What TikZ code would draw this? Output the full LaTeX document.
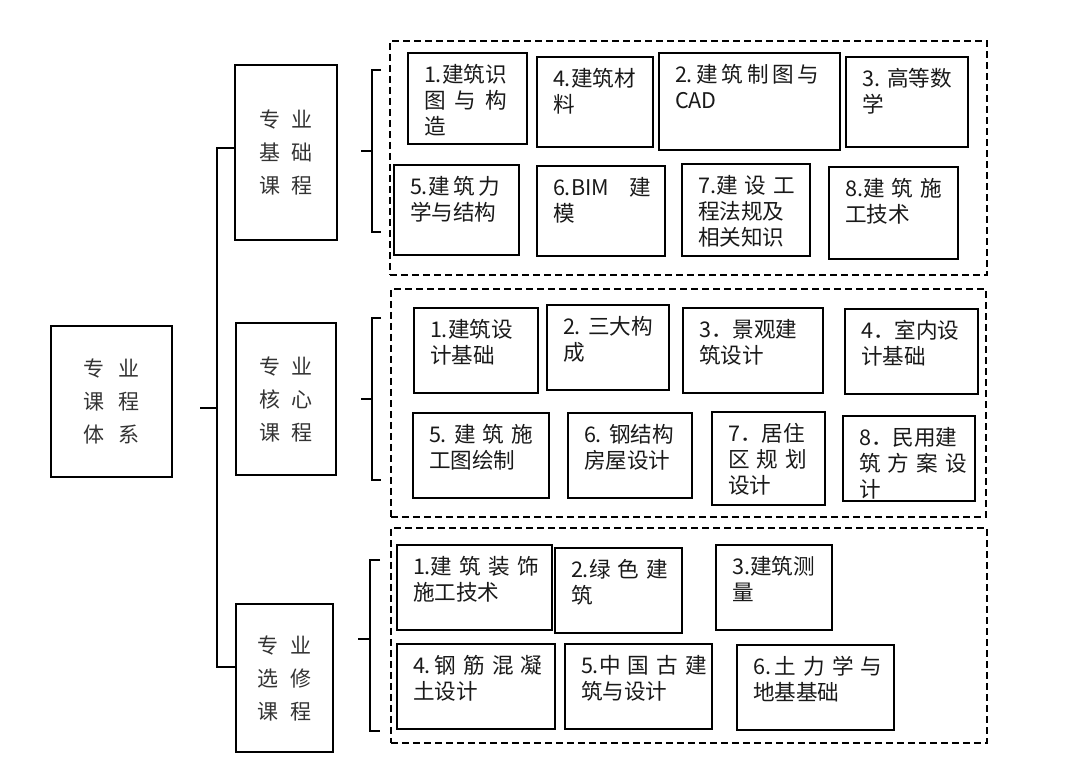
\documentclass[tikz,border=0pt]{standalone}
\usepackage{fontspec}
\setmainfont{Noto Sans CJK SC}
\usepackage{tikz}

\tikzset{
  link/.style={line width=1.25pt},
  catbox/.style 2 args={draw, line width=1.4pt, minimum width=#1, minimum height=#2, inner sep=0pt, align=center, text=black!80, font=\fontsize{10.5}{16.5}\selectfont},
  frame/.style 2 args={draw, dash pattern=on 3.5pt off 2pt, line width=0.8pt, anchor=north west, minimum width=#1, minimum height=#2, inner sep=0pt},
  cbox/.code 2 args={\pgfmathsetmacro\cboxw{#1/2-16}\pgfmathsetmacro\cboxd{#2/2-18.7}%
    \tikzset{draw, line width=1pt, anchor=north west, inner xsep=8pt, inner ysep=4pt, align=left, text=black!90,
      text width/.expanded=\cboxw pt, text height=10.7pt, text depth/.expanded=\cboxd pt, font=\fontsize{10.8}{13}\selectfont}},
}

\begin{document}
\begin{tikzpicture}[x=0.5pt,y=-0.5pt]
		\useasboundingbox (0,0) rectangle (1080,762);
		% main boxes
		\node[catbox={60.5pt}{75.5pt}] (root) at (111.5,401.5) {专\hspace{7pt}业\\课\hspace{7pt}程\\体\hspace{7pt}系};
		\node[catbox={51pt}{87.5pt}] (jichu) at (286,152.5) {专\hspace{6pt}业\\基\hspace{6pt}础\\课\hspace{6pt}程};
		\node[catbox={50pt}{76pt}] (hexin) at (286,399) {专\hspace{6pt}业\\核\hspace{6pt}心\\课\hspace{6pt}程};
		\node[catbox={48.5pt}{74pt}] (xuanxiu) at (284.5,678) {专\hspace{6pt}业\\选\hspace{6pt}修\\课\hspace{6pt}程};
		%
		\coordinate (trunk) at (217,408);
		\coordinate (rootend) at ([xshift=13.5pt,yshift=-3.25pt]root.east);
		\draw[link] (rootend) -- (trunk);
		\draw[link] ([yshift=2.25pt]jichu.west) -| (trunk) |- ([yshift=5.5pt]xuanxiu.west);
		% brackets
		\coordinate (b1) at (361,151);
		\coordinate (b2) at (361,399);
		\coordinate (b3) at (358,639);
		\draw[link] (b1) -- ++(11,0);
		\draw[link] (381,70) -| (372,232) -- (381,232);
		\draw[link] (b2) -- ++(11,0);
		\draw[link] (381,318) -| (372,480) -- (381,480);
		\draw[link] (b3) -- ++(12,0);
		\draw[link] (380,560) -| (370,731) -- (380,731);
		% dashed frames
		\node[frame={298.5pt}{117pt}] (f1) at (389,40) {};
		\node[frame={297.5pt}{114pt}] (f2) at (390,288) {};
		\node[frame={298pt}{107.5pt}] (f3) at (390,527) {};
		% basic courses
		\node[cbox={119}{91}] (jc1) at (407,52) {1.建筑识\\图\kern4.5pt 与\kern4.5pt 构\\造};
		\node[cbox={116}{90}] (jc2) at (536,56) {4.建筑材\\料};
		\node[cbox={181}{97}] (jc3) at (658,52) {2.\,建\,筑\,制\,图\,与\\CAD};
		\node[cbox={122}{90}] (jc4) at (845,56) {3.~高等数\\学};
		\node[cbox={125}{90}] (jc5) at (393,164) {5.建\,筑\,力\\学与结构};
		\node[cbox={128}{90}] (jc6) at (536,165) {6.BIM\kern10pt 建\\模};
		\node[cbox={128}{92}] (jc7) at (681,163) {7.建~设~工\\程法规及\\相关知识};
		\node[cbox={129}{92}] (jc8) at (828,166) {8.建~筑~施\\工技术};
		% core courses
		\node[cbox={124}{85}] (hx1) at (413,307) {1.建筑设\\计基础};
		\node[cbox={122}{85}] (hx2) at (546,304) {2.~三大构\\成};
		\node[cbox={140}{85}] (hx3) at (682,307) {3．景观建\\筑设计};
		\node[cbox={133}{85}] (hx4) at (844,308) {4．室内设\\计基础};
		\node[cbox={136}{85}] (hx5) at (412,412) {5.~建~筑~施\\工图绘制};
		\node[cbox={124}{85}] (hx6) at (567,412) {6.~钢结构\\房屋设计};
		\node[cbox={113}{93}] (hx7) at (711,411) {7．居住\\区~规~划\\设计};
		\node[cbox={132}{85}] (hx8) at (842,415) {8．民用建\\筑~方~案~设\\计};
		% elective courses
		\node[cbox={155}{85}] (xx1) at (396,544) {1.建~筑~装~饰\\施工技术};
		\node[cbox={127}{85}] (xx2) at (554,547) {2.绿~色~建\\筑};
		\node[cbox={116}{85}] (xx3) at (715,544) {3.建筑测\\量};
		\node[cbox={158}{85}] (xx4) at (396,643) {4.\,钢~筋~混~凝\\土设计};
		\node[cbox={147}{85}] (xx5) at (564,643) {5.中~国~古~建\\筑与设计};
		\node[cbox={157}{85}] (xx6) at (736,644) {6.\,土~力~学~与\\地基基础};
\end{tikzpicture}
\end{document}
